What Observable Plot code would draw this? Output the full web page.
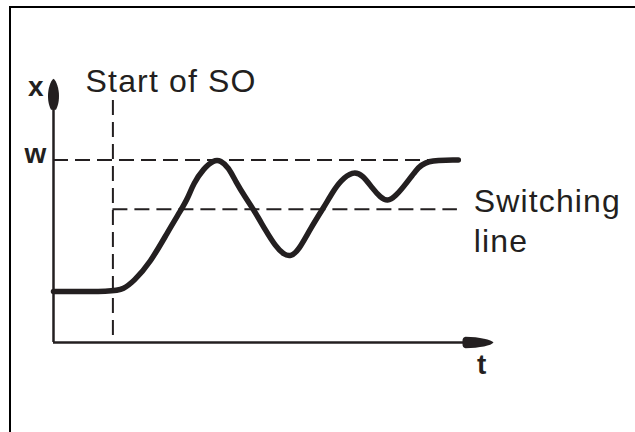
<!DOCTYPE html>
<html>
<head>
<meta charset="utf-8">
<script src="https://cdn.jsdelivr.net/npm/d3@7"></script>
<script src="https://cdn.jsdelivr.net/npm/@observablehq/plot@0.6"></script>
<style>
  html, body { margin: 0; padding: 0; background: #fff; }
  #wrap { position: relative; width: 635px; height: 432px; overflow: hidden; }
  #frame { position: absolute; left: 9px; top: 6px; right: -5px; bottom: -5px;
           border-top: 2px solid #000; border-left: 2px solid #000; pointer-events: none; }
  svg g[font-size="32"] { letter-spacing: 1.15px; }
</style>
</head>
<body>
<div id="wrap"><div id="frame"></div></div>
<script>
// Controlled variable x over time t (arbitrary units; w = 1)
const tVals = [0, 1.364, 1.59, 1.82, 2.20, 2.59, 2.89, 3.05, 3.18, 3.41, 3.64, 3.80, 3.98, 4.14, 4.36, 4.59, 4.82, 5.05, 5.23, 5.39, 5.57, 5.84, 6.14, 6.34, 6.52, 6.80, 7.02, 7.25, 7.43, 7.59, 7.77, 8.00, 8.23, 8.45, 9.20];
const xVals = [0.279, 0.279, 0.293, 0.334, 0.438, 0.603, 0.723, 0.789, 0.871, 0.953, 1.0, 0.998, 0.959, 0.882, 0.795, 0.712, 0.614, 0.526, 0.482, 0.470, 0.504, 0.625, 0.740, 0.822, 0.886, 0.938, 0.920, 0.844, 0.795, 0.772, 0.800, 0.866, 0.942, 1.0, 1.0];

// Reference levels and times
const wLevel = 1.0;          // set point w
const switchLevel = 0.73;    // switching line
const soStart = 1.35;        // start of SO
const soTop = 1.326;         // top of the "start of SO" marker
const lineEnd = 9.18;        // end of the dashed lines
const tMax = 10;             // tip of t axis
const xMax = 1.445;          // tip of x axis

// Text labels
const axisLabels = [
  {label: "x", t: -0.40, v: 1.353},
  {label: "w", t: -0.41, v: 0.981},
  {label: "t", t: 9.73, v: -0.170}
];
const annotations = [
  {label: "Start of SO", t: 0.73, v: 1.375},
  {label: "Switching\nline", t: 9.55, v: 0.4986}
];

const ink = "#231f20";
const font = "'Liberation Sans', Arial, Helvetica, sans-serif";

const curveData = tVals.map((t, i) => ({t, v: xVals[i]}));

// Arrowhead shapes (tip at the origin)
const upHead = {
  draw(ctx) {
    ctx.moveTo(0, 0);
    ctx.bezierCurveTo(3, 2, 5.5, 10, 5.5, 17);
    ctx.bezierCurveTo(5.5, 24, 4, 28, 2.5, 31);
    ctx.lineTo(-2.5, 31);
    ctx.bezierCurveTo(-4, 28, -5.5, 24, -5.5, 17);
    ctx.bezierCurveTo(-5.5, 10, -3, 2, 0, 0);
    ctx.closePath();
  }
};
const rightHead = {
  draw(ctx) {
    ctx.moveTo(0, 0);
    ctx.bezierCurveTo(-2, -3, -14, -5.5, -28, -5.8);
    ctx.quadraticCurveTo(-31, -5, -31, -2);
    ctx.lineTo(-31, 2);
    ctx.quadraticCurveTo(-31, 5, -28, 5.8);
    ctx.bezierCurveTo(-14, 5.5, -2, 3, 0, 0);
    ctx.closePath();
  }
};

const chart = Plot.plot({
  width: 635,
  height: 432,
  marginLeft: 53,
  marginRight: 142,
  marginTop: 77.4,
  marginBottom: 90,
  x: {domain: [0, tMax], axis: null},
  y: {domain: [0, 1.45], axis: null},
  style: {background: "transparent", overflow: "visible"},
  marks: [
    // dashed reference lines
    Plot.ruleY([wLevel], {x1: 0, x2: lineEnd, stroke: ink, strokeWidth: 2, strokeDasharray: "15,7"}),
    Plot.ruleY([switchLevel], {x1: soStart, x2: lineEnd, stroke: ink, strokeWidth: 2, strokeDasharray: "15,7"}),
    Plot.ruleX([soStart], {y1: soTop, y2: 0, stroke: ink, strokeWidth: 2, strokeDasharray: "15,7"}),
    // axes
    Plot.ruleX([0], {y1: 0, y2: xMax - 0.1, stroke: ink, strokeWidth: 2.5}),
    Plot.ruleY([0], {x1: 0, x2: tMax - 0.5, stroke: ink, strokeWidth: 2.5}),
    Plot.dot([{t: 0, v: xMax}], {x: "t", y: "v", symbol: upHead, r: 5, fill: ink, stroke: "none"}),
    Plot.dot([{t: tMax, v: 0}], {x: "t", y: "v", symbol: rightHead, r: 5, fill: ink, stroke: "none"}),
    // controlled variable
    Plot.line(curveData, {x: "t", y: "v", curve: "basis", stroke: ink, strokeWidth: 5.5, strokeLinejoin: "round"}),
    // labels
    Plot.text(axisLabels, {x: "t", y: "v", text: "label", fontSize: 28, fontWeight: "bold", fontFamily: font, fill: ink, textAnchor: "middle", lineAnchor: "bottom"}),
    Plot.text(annotations, {x: "t", y: "v", text: "label", fontSize: 32, fontFamily: font, fill: ink, textAnchor: "start", lineAnchor: "bottom", lineHeight: 1.25})
  ]
});

document.getElementById("wrap").insertBefore(chart, document.getElementById("frame"));
</script>
</body>
</html>
